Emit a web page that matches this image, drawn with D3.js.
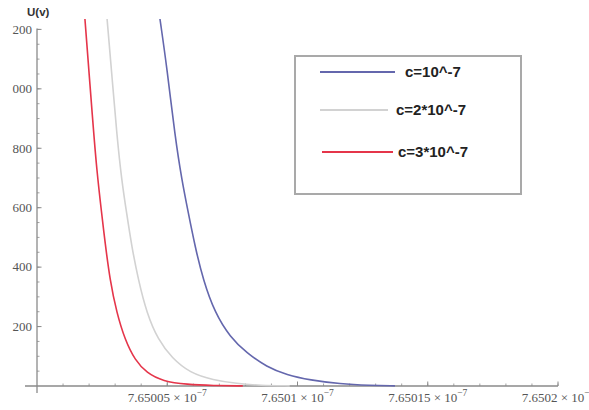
<!DOCTYPE html>
<html>
<head>
<meta charset="utf-8">
<script src="https://cdn.jsdelivr.net/npm/d3@7"></script>
<style>
    body { margin: 0; background: #fff; }
    .tick-label { font-family: "Liberation Serif", "Times New Roman", serif; font-size: 13px; fill: #555; }
    .axis-title { font-family: "Liberation Sans", Arial, sans-serif; font-weight: bold; font-size: 11.5px; fill: #333; }
    .legend-text { font-family: "Liberation Sans", Arial, sans-serif; font-weight: bold; font-size: 15px; fill: #222; }
</style>
</head>
<body>
<div id="chart"></div>
<script>
/* ============================================================
   Chart: U(v) for three values of c
   ============================================================ */

// x values are mantissas of v, in units of 10^-7
const redX  = [7.6500184, 7.6500215, 7.6500229, 7.6500248, 7.6500261, 7.6500280, 7.6500306, 7.6500338, 7.6500376, 7.6500421, 7.6500483, 7.6500576, 7.6500676, 7.6500790];
const redY  = [1235, 880, 730, 582, 485, 357, 246, 155, 87, 44, 16, 5, 1.5, 0.3];

const greyX = [7.6500269, 7.6500288, 7.6500307, 7.6500325, 7.6500344, 7.6500364, 7.6500389, 7.6500421, 7.6500465, 7.6500518, 7.6500587, 7.6500676, 7.6500768, 7.6500856, 7.6500970];
const greyY = [1235, 1040, 840, 693, 582, 468, 357, 246, 155, 94, 44, 20, 8, 2, 0.5];

const blueX = [7.6500472, 7.6500499, 7.6500530, 7.6500556, 7.6500581, 7.6500607, 7.6500638, 7.6500683, 7.6500741, 7.6500805, 7.6500882, 7.6500959, 7.6501048, 7.6501163, 7.6501278, 7.6501374];
const blueY = [1235, 1070, 838, 693, 582, 468, 357, 246, 165, 111, 64, 37, 20, 7, 2, 0.5];

const seriesNames = ['c=10^-7', 'c=2*10^-7', 'c=3*10^-7'];

const xTicks = [7.65005, 7.6501, 7.65015, 7.6502];
const xTickLabels = ['7.65005', '7.6501', '7.65015', '7.6502'];
const yTicks = [200, 400, 600, 800, 1000, 1200];
const yTickLabels = ['200', '400', '600', '800', '1000', '1200'];

const COLORS = { blue: '#6467ad', grey: '#d2d2d2', red: '#e5354a', axis: '#8a8a8a' };

function drawChart() {
    const width = 589, height = 410;

    const svg = d3.select('#chart').append('svg')
        .attr('width', width)
        .attr('height', height);

    const xScale = d3.scaleLinear().domain([7.65000, 7.65020]).range([37, 558]);
    const yScale = d3.scaleLinear().domain([0, 1235]).range([386, 19]);

    // image is cut at the left edge, hiding the leading digit of the 4-digit labels
    svg.append('clipPath').attr('id', 'crop')
        .append('rect').attr('x', 12).attr('y', 0).attr('width', width - 12).attr('height', height);
    svg.append('clipPath').attr('id', 'plot')
        .append('rect').attr('x', xScale.range()[0]).attr('y', yScale.range()[1])
        .attr('width', xScale.range()[1] - xScale.range()[0] + 2).attr('height', yScale.range()[0] - yScale.range()[1] + 2);

    const g = svg.append('g').attr('clip-path', 'url(#crop)');

    const x0 = xScale.range()[0], y0 = yScale(0);

    // Axes lines
    g.append('line').attr('x1', x0 - 12).attr('x2', xScale(7.6502)).attr('y1', y0).attr('y2', y0)
        .attr('stroke', COLORS.axis).attr('stroke-width', 1.3);
    g.append('line').attr('x1', x0).attr('x2', x0).attr('y1', yScale(1200) - 1).attr('y2', y0 + 7)
        .attr('stroke', COLORS.axis).attr('stroke-width', 1.3);

    // Minor ticks
    d3.range(7.65001, 7.6502001, 0.00001).forEach(t => {
        const x = xScale(t);
        g.append('line').attr('x1', x).attr('x2', x).attr('y1', y0).attr('y2', y0 - 2.5)
            .attr('stroke', COLORS.axis).attr('stroke-width', 0.8);
    });
    d3.range(50, 1201, 50).forEach(t => {
        const y = yScale(t);
        g.append('line').attr('x1', x0).attr('x2', x0 + 2.5).attr('y1', y).attr('y2', y)
            .attr('stroke', COLORS.axis).attr('stroke-width', 0.8);
    });

    // Major ticks + labels
    xTicks.forEach((tick, i) => {
        const x = xScale(tick);
        g.append('line').attr('x1', x).attr('x2', x).attr('y1', y0).attr('y2', y0 - 4.5)
            .attr('stroke', COLORS.axis).attr('stroke-width', 1);
        const t = g.append('text').attr('class', 'tick-label').attr('x', x).attr('y', y0 + 16)
            .attr('text-anchor', 'middle');
        t.append('tspan').text(xTickLabels[i] + ' \u00d7 10');
        t.append('tspan').attr('dy', -6).attr('font-size', '9.5px').text('\u22127');
    });

    yTicks.forEach((tick, i) => {
        const y = yScale(tick);
        g.append('line').attr('x1', x0).attr('x2', x0 + 4.5).attr('y1', y).attr('y2', y)
            .attr('stroke', COLORS.axis).attr('stroke-width', 1);
        g.append('text').attr('class', 'tick-label').attr('x', x0 - 5).attr('y', y).attr('dy', '0.33em')
            .attr('text-anchor', 'end').text(yTickLabels[i]);
    });

    g.append('text').attr('class', 'axis-title').attr('x', 27).attr('y', 16).text('U(v)');

    // Curves
    const line = d3.line().x(d => xScale(d[0])).y(d => yScale(d[1])).curve(d3.curveBasis);
    const curves = svg.append('g').attr('clip-path', 'url(#plot)');
    [
        { xs: redX, ys: redY, color: COLORS.red },
        { xs: greyX, ys: greyY, color: COLORS.grey },
        { xs: blueX, ys: blueY, color: COLORS.blue }
    ].forEach(s => {
        curves.append('path')
            .attr('d', line(s.xs.map((x, i) => [x, s.ys[i]])))
            .attr('fill', 'none').attr('stroke', s.color).attr('stroke-width', 1.6);
    });

    // Legend
    const legend = svg.append('g');
    legend.append('rect').attr('x', 295).attr('y', 56).attr('width', 226).attr('height', 138)
        .attr('fill', '#fff').attr('stroke', '#a9a9a9').attr('stroke-width', 2);
    const legendColors = [COLORS.blue, COLORS.grey, COLORS.red];
    const legendRows = [
        { y: 72, x1: 320, x2: 395, tx: 405 },
        { y: 110, x1: 320, x2: 388, tx: 396 },
        { y: 152, x1: 322, x2: 393, tx: 398 }
    ];
    seriesNames.forEach((name, i) => {
        const r = legendRows[i];
        legend.append('line').attr('x1', r.x1).attr('x2', r.x2).attr('y1', r.y).attr('y2', r.y)
            .attr('stroke', legendColors[i]).attr('stroke-width', 2);
        legend.append('text').attr('class', 'legend-text').attr('x', r.tx).attr('y', r.y).attr('dy', '0.36em')
            .text(name);
    });
}

drawChart();
</script>
</body>
</html>
